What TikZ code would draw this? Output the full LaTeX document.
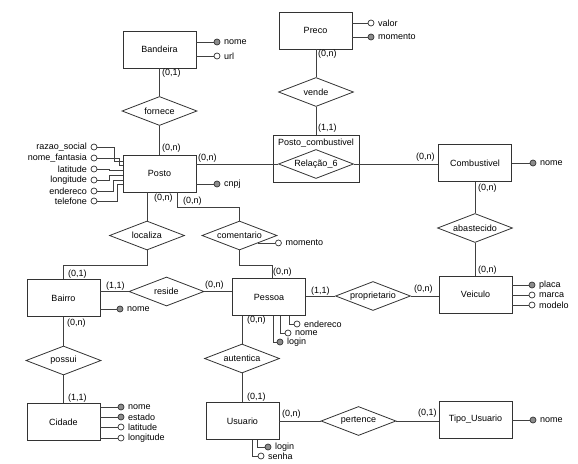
\documentclass[tikz,border=0pt]{standalone}
\usepackage{fontspec}
\setmainfont{Liberation Sans}
\usetikzlibrary{shapes.geometric,calc}
\begin{document}
\begin{tikzpicture}[x=1pt,y=-1pt,
  every node/.style={font=\fontsize{9}{10}\selectfont, text=black},
  conn/.style={draw=black!75, line width=0.8pt},
  entity/.style={rectangle, draw=black!80, line width=0.8pt, fill=white, minimum width=73pt, minimum height=37pt, inner sep=0pt},
  relbox/.style={diamond, draw=black!80, line width=0.8pt, fill=white, minimum width=75pt, minimum height=29pt, inner sep=0pt, shape aspect=2.6},
  attrw/.style={circle, draw=black!80, line width=0.7pt, fill=white, minimum size=6pt, inner sep=0pt},
  attrk/.style={attrw, fill=black!45},
  card/.style={inner sep=0pt, anchor=west},
  label distance=3.5pt,
  every label/.style={inner sep=0pt, font=\fontsize{9}{10}\selectfont}
]
\useasboundingbox (0,0) rectangle (578,463);

% entities
\node[entity] (bandeira) at (159.5,49.5) {Bandeira};
\node[entity] (posto) at (159.5,173.5) {Posto};
\node[entity] (preco) at (315.5,30.5) {Preco};
\node[entity, minimum width=86pt, minimum height=47pt] (pc) at (316,158.5) {};
\node[inner sep=0pt] (pclabel) at (316,143.5) {Posto\_combustivel};
\node[entity] (comb) at (475,163) {Combustivel};
\node[entity] (veic) at (475.5,294.5) {Veiculo};
\node[entity] (bairro) at (63.5,298) {Bairro};
\node[entity] (cidade) at (63.5,422) {Cidade};
\node[entity] (pessoa) at (269,297) {Pessoa};
\node[entity] (usuario) at (242.5,421) {Usuario};
\node[entity] (tipo) at (475.5,419.5) {Tipo\_Usuario};

% relationships
\node[relbox] (fornece) at (159.5,111) {fornece};
\node[relbox] (vende) at (316,92) {vende};
\node[relbox] (rel6) at (316,164) {Relação\_6};
\node[relbox] (abast) at (475,228) {abastecido};
\node[relbox] (coment) at (239.5,235.5) {comentario};
\node[relbox] (localiza) at (147,235.5) {localiza};
\node[relbox] (reside) at (166.5,291.5) {reside};
\node[relbox] (propr) at (373,296) {proprietario};
\node[relbox] (possui) at (63.5,360.5) {possui};
\node[relbox] (autent) at (242,358.5) {autentica};
\node[relbox] (pert) at (358.5,421) {pertence};

% relationship connectors
\draw[conn] (bandeira.south) -- (fornece.north);
\draw[conn] (fornece.south) -- (posto.north);
\draw[conn] (posto.east |- rel6.west) -- (rel6.west);
\draw[conn] (rel6.east) -- (comb.west |- rel6.east);
\draw[conn] (preco.south -| vende.north) -- (vende.north);
\draw[conn] (vende.south) -- (pc.north -| vende.south);
\draw[conn] (comb.south -| abast.north) -- (abast.north);
\draw[conn] (abast.south) -- (veic.north -| abast.south);
\draw[conn] (posto.south -| localiza.north) -- (localiza.north);
\coordinate (pb2) at (177,207);
\draw[conn] (posto.south -| pb2) -- (pb2) -| (coment.north);
\coordinate (cb) at (272,265);
\draw[conn] (coment.south) |- (cb) -- (pessoa.north -| cb);
\coordinate (lb) at (63.5,265);
\draw[conn] (localiza.south) |- (lb) -- (bairro.north);
\draw[conn] (bairro.east |- reside.west) -- (reside.west);
\draw[conn] (reside.east) -- (pessoa.west |- reside.east);
\draw[conn] (pessoa.east |- propr.west) -- (propr.west);
\draw[conn] (propr.east) -- (veic.west |- propr.east);
\draw[conn] (bairro.south) -- (possui.north);
\draw[conn] (possui.south) -- (cidade.north);
\draw[conn] (pessoa.south -| autent.north) -- (autent.north);
\draw[conn] (autent.south) -- (usuario.north -| autent.south);
\draw[conn] (usuario.east |- pert.west) -- (pert.west);
\draw[conn] (pert.east) -- (tipo.west |- pert.east);

% attributes: Bandeira
\node[attrk, label=right:nome] (bn) at (217,42) {};
\node[attrw, label=right:url] (bu) at (217,56) {};
\draw[conn] (bandeira.east |- bn) -- (bn);
\draw[conn] (bandeira.east |- bu) -- (bu);
% Preco
\node[attrw, label=right:valor] (pv) at (371,23) {};
\node[attrk, label=right:momento] (pm) at (371,37) {};
\draw[conn] (preco.east |- pv) -- (pv);
\draw[conn] (preco.east |- pm) -- (pm);
% Posto
\node[attrk, label=right:cnpj] (pcn) at (217,184) {};
\draw[conn] (posto.east |- pcn) -- (pcn);
\node[attrw, label=left:razao\_social] (prz) at (94,147) {};
\node[attrw, label=left:nome\_fantasia] (pnf) at (94,158) {};
\node[attrw, label=left:latitude] (pla) at (94,169) {};
\node[attrw, label=left:longitude] (plo) at (94,180) {};
\node[attrw, label=left:endereco] (pen) at (94,191) {};
\node[attrw, label=left:telefone] (pte) at (94,201) {};
\coordinate (e1) at (114,161);
\coordinate (e2) at (119,165);
\coordinate (e3) at (109,170);
\coordinate (e4) at (109,175);
\coordinate (e5) at (113,180);
\coordinate (e6) at (117,184);
\draw[conn] (prz) -| (e1) -- (posto.west |- e1);
\draw[conn] (pnf) -| (e2) -- (posto.west |- e2);
\draw[conn] (pla) -| (e3) -- (posto.west |- e3);
\draw[conn] (plo) -| (e4) -- (posto.west |- e4);
\draw[conn] (pen) -| (e5) -- (posto.west |- e5);
\draw[conn] (pte) -| (e6) -- (posto.west |- e6);
% Combustivel
\node[attrk, label=right:nome] (cn) at (533,163) {};
\draw[conn] (comb.east |- cn) -- (cn);
% comentario
\coordinate (cmp) at ($(coment.east)!0.5!(coment.south)$);
\node[attrw, label=right:momento] (cm) at ($(cmp)+(20,0)$) {};
\draw[conn] (cmp) -- (cm);
% Veiculo
\node[attrk, label=right:placa] (vp) at (532,285) {};
\node[attrw, label=right:marca] (vm) at (532,295) {};
\node[attrw, label=right:modelo] (vmo) at (532,305) {};
\draw[conn] (veic.east |- vp) -- (vp);
\draw[conn] (veic.east |- vm) -- (vm);
\draw[conn] (veic.east |- vmo) -- (vmo);
% Bairro
\node[attrk, label=right:nome] (ban) at (120,309) {};
\draw[conn] (bairro.east |- ban) -- (ban);
% Cidade
\node[attrk, label=right:nome] (cin) at (121,407) {};
\node[attrk, label=right:estado] (cie) at (121,417) {};
\node[attrw, label=right:latitude] (cila) at (121,427) {};
\node[attrw, label=right:longitude] (cilo) at (121,438) {};
\draw[conn] (cidade.east |- cin) -- (cin);
\draw[conn] (cidade.east |- cie) -- (cie);
\draw[conn] (cidade.east |- cila) -- (cila);
\draw[conn] (cidade.east |- cilo) -- (cilo);
% Pessoa
\node[attrw, label=right:endereco] (pse) at (297,324) {};
\node[attrw, label=right:nome] (psn) at (288,333) {};
\node[attrk, label=right:login] (psl) at (280,342) {};
\coordinate (pv1) at (289,324);
\coordinate (pv2) at (280,333);
\coordinate (pv3) at (273,342);
\draw[conn] (pessoa.south -| pv1) -- (pv1) -- (pse);
\draw[conn] (pessoa.south -| pv2) -- (pv2) -- (psn);
\draw[conn] (pessoa.south -| pv3) -- (pv3) -- (psl);
% Usuario
\node[attrk, label=right:login] (ul) at (268,447) {};
\node[attrw, label=right:senha] (us) at (261,456) {};
\coordinate (uv1) at (257,447);
\coordinate (uv2) at (252,456);
\draw[conn] (usuario.south -| uv1) -- (uv1) -- (ul);
\draw[conn] (usuario.south -| uv2) -- (uv2) -- (us);
% Tipo_Usuario
\node[attrk, label=right:nome] (tn) at (533,420) {};
\draw[conn] (tipo.east |- tn) -- (tn);

% cardinalities
\node[card] (c1) at (162,73) {(0,1)};
\node[card] (c2) at (162,148) {(0,n)};
\node[card] (c3) at (198,158) {(0,n)};
\node[card] (c4) at (154,198) {(0,n)};
\node[card] (c5) at (183,201) {(0,n)};
\node[card] (c6) at (318,54) {(0,n)};
\node[card] (c7) at (318,128) {(1,1)};
\node[card] (c8) at (416,157) {(0,n)};
\node[card] (c9) at (478,188) {(0,n)};
\node[card] (c10) at (478,270) {(0,n)};
\node[card] (c11) at (414,289) {(0,n)};
\node[card] (c12) at (311,291) {(1,1)};
\node[card] (c13) at (273,272) {(0,n)};
\node[card] (c14) at (205,285) {(0,n)};
\node[card] (c15) at (106,286) {(1,1)};
\node[card] (c16) at (68,274) {(0,1)};
\node[card] (c17) at (67,323) {(0,n)};
\node[card] (c18) at (68,398) {(1,1)};
\node[card] (c19) at (247,320) {(0,n)};
\node[card] (c20) at (247,397) {(0,1)};
\node[card] (c21) at (282,414) {(0,n)};
\node[card] (c22) at (418,413) {(0,1)};
\end{tikzpicture}
\end{document}
